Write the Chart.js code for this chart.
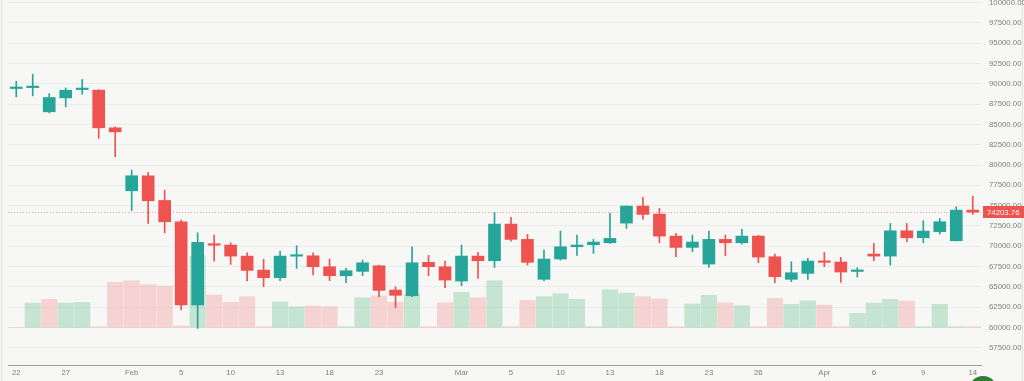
<!DOCTYPE html>
<html>
<head>
<meta charset="utf-8">
<title>Candles</title>
<script src="https://cdn.jsdelivr.net/npm/chart.js@4.4.1/dist/chart.umd.min.js"></script>
<style>
  html, body { margin: 0; padding: 0; background: #f7f8f6; overflow: hidden; }
  #wrap { position: relative; width: 1024px; height: 381px; }
  #badge { position: absolute; left: 969px; top: 376px; width: 28px; height: 28px; border-radius: 50%; background: #2e7d32; }
</style>
</head>
<body>
<div id="wrap">
  <canvas id="chart" width="1024" height="381"></canvas>
  <div id="badge"></div>
</div>
<script>
// daily candles, weekdays only
const dates = ['Jan 22','Jan 23','Jan 26','Jan 27','Jan 28','Jan 29','Jan 30',
  'Feb 2','Feb 3','Feb 4','Feb 5','Feb 6','Feb 9','Feb 10','Feb 11','Feb 12','Feb 13',
  'Feb 16','Feb 17','Feb 18','Feb 19','Feb 20','Feb 23','Feb 24','Feb 25','Feb 26','Feb 27',
  'Mar 2','Mar 3','Mar 4','Mar 5','Mar 6','Mar 9','Mar 10','Mar 11','Mar 12','Mar 13',
  'Mar 16','Mar 17','Mar 18','Mar 19','Mar 20','Mar 23','Mar 24','Mar 25','Mar 26','Mar 27',
  'Mar 30','Mar 31','Apr 1','Apr 2','Apr 3','Apr 6','Apr 7','Apr 8','Apr 9','Apr 10',
  'Apr 13','Apr 14'];

// which dates get a label on the time axis, and what it says
const shownTicks = {
  'Jan 22': '22', 'Jan 27': '27', 'Feb 2': 'Feb', 'Feb 5': '5', 'Feb 10': '10',
  'Feb 13': '13', 'Feb 18': '18', 'Feb 23': '23', 'Mar 2': 'Mar', 'Mar 5': '5',
  'Mar 10': '10', 'Mar 13': '13', 'Mar 18': '18', 'Mar 23': '23', 'Mar 26': '26',
  'Apr 1': 'Apr', 'Apr 6': '6', 'Apr 9': '9', 'Apr 14': '14'
};

// price axis ticks
const priceTicks = [57500, 60000, 62500, 65000, 67500, 70000, 72500, 75000, 77500,
  80000, 82500, 85000, 87500, 90000, 92500, 95000, 97500, 100000];

const opens = [89420, 89530, 86550, 88270, 89290, 89210, 84580, 76830, 78670, 75640,
  73020, 62770, 70250, 70150, 68790, 67070, 66130, 68780, 68830, 67480,
  66370, 66910, 67600, 64610, 63910, 68020, 67480, 65720, 68790, 68220,
  72730, 70850, 65930, 68430, 69940, 70190, 70430, 72850, 74950, 73960,
  71250, 69860, 67810, 70850, 70430, 71250, 68710, 65930, 66660, 68180,
  68060, 66900, 69040, 68790, 71910, 71050, 71790, 70680, 74450];

const highs = [90320, 91180, 88800, 89500, 90530, 89300, 84700, 79370, 79090, 76910,
  73220, 71660, 71380, 70430, 69200, 68390, 69410, 70070, 69200, 68430,
  67280, 68300, 67690, 65020, 69940, 68880, 68180, 70150, 69250, 74170,
  73550, 71460, 69530, 71870, 71380, 70850, 74040, 74990, 76010, 74660,
  71580, 71380, 71870, 71380, 72080, 71340, 69040, 68100, 68510, 69250,
  68630, 67360, 70350, 72810, 72810, 73140, 73430, 74860, 76170];

const lows = [88390, 88510, 86420, 87160, 88720, 83270, 81010, 74410, 72810, 71660,
  62150, 59900, 68180, 67770, 65720, 65020, 65760, 67280, 66460, 65760,
  65510, 66380, 63790, 62440, 63790, 66380, 64900, 65150, 66050, 67400,
  70640, 67690, 65720, 68300, 68880, 69120, 70350, 72200, 73310, 70430,
  68710, 69330, 67400, 68830, 70270, 67970, 65510, 65640, 65930, 67480,
  65560, 66210, 68220, 67690, 70560, 70430, 71500, 70650, 73920];

const closes = [89440, 89560, 88310, 89210, 89310, 84580, 84090, 78680, 75600, 73020,
  62770, 70480, 70130, 68790, 67030, 66130, 68790, 68820, 67480, 66380,
  66990, 67970, 64570, 63960, 67970, 67480, 65840, 68790, 68220, 72730,
  70850, 68020, 68430, 69940, 70150, 70520, 70970, 74950, 73920, 71250,
  69860, 70520, 70850, 70430, 71250, 68670, 66250, 66740, 68180, 68020,
  66830, 66990, 68790, 71910, 71050, 71870, 73020, 74450, 74203.76];

const volumes = [0, 2450, 2820, 2450, 2520, 80, 4520, 4680, 4280, 4150,
  150, 7180, 3250, 2520, 3080, 80, 2550, 2080, 2150, 2080,
  80, 2980, 3180, 2550, 3350, 80, 2480, 3520, 2980, 4680,
  80, 2720, 3080, 3380, 2820, 80, 3780, 3450, 3080, 2850,
  80, 2350, 3220, 2480, 2180, 80, 2920, 2320, 2680, 2250,
  80, 1420, 2450, 2820, 2650, 80, 2320, 80, 80];

// 1 = green volume bar, 0 = red
const volumeUp = [0,1,0,1,1,0,0,0,0,0, 0,1,0,0,0,0,1,1,0,0,
  1,1,0,0,1,0,0,1,0,1, 0,0,1,1,1,1,1,1,0,0,
  0,1,1,0,1,0,0,1,1,0, 0,1,1,1,0,1,1,1,0];

const PRICE_MIN = 55385;
const PRICE_MAX = 100315;
const VOL_BASE = 60000;      // volume bars stand on this price level
const VOL_SCALE = 0.8125;    // volume units per price unit

const UP = '#26a69a';
const DOWN = '#ef5350';
const lastPrice = closes[closes.length - 1];

const isUp = opens.map((o, i) => closes[i] >= o);
const candleColors = isUp.map(u => u ? UP : DOWN);

const fontFamily = "'Liberation Sans', Arial, sans-serif";

// background, frame, last-price line and label
const pricePlugin = {
  id: 'priceLine',
  beforeDraw(chart) {
    const ctx = chart.ctx;
    ctx.save();
    ctx.fillStyle = '#f7f8f6';
    ctx.fillRect(0, 0, chart.width, chart.height);
    ctx.strokeStyle = '#dfe2df';
    ctx.lineWidth = 1;
    ctx.beginPath();
    ctx.moveTo(1.5, 0); ctx.lineTo(1.5, chart.height);
    ctx.moveTo(1022.5, 0); ctx.lineTo(1022.5, chart.height);
    ctx.stroke();
    ctx.restore();
  },
  afterDraw(chart) {
    const ctx = chart.ctx;
    const area = chart.chartArea;
    const y = Math.round(chart.scales.y.getPixelForValue(lastPrice)) + 0.5;
    ctx.save();
    ctx.strokeStyle = 'rgba(239,83,80,0.55)';
    ctx.lineWidth = 1;
    ctx.setLineDash([1, 2]);
    ctx.beginPath();
    ctx.moveTo(area.left, y);
    ctx.lineTo(area.right, y);
    ctx.stroke();
    ctx.setLineDash([]);
    ctx.fillStyle = DOWN;
    ctx.fillRect(area.right + 2, y - 6.5, 41, 12);
    ctx.fillStyle = '#ffffff';
    ctx.font = '7.8px ' + fontFamily;
    ctx.textBaseline = 'middle';
    ctx.textAlign = 'left';
    ctx.fillText(lastPrice.toFixed(2), area.right + 6, y);
    ctx.restore();
  }
};

new Chart(document.getElementById('chart'), {
  type: 'bar',
  data: {
    labels: dates,
    datasets: [
      {
        label: 'Body',
        data: opens.map((o, i) => [o, closes[i]]),
        backgroundColor: candleColors,
        barThickness: 12,
        minBarLength: 1.5,
        grouped: false,
        order: 1
      },
      {
        label: 'Wick',
        data: lows.map((l, i) => [l, highs[i]]),
        backgroundColor: candleColors,
        barThickness: 1,
        grouped: false,
        order: 2
      },
      {
        label: 'Volume',
        data: volumes,
        yAxisID: 'yv',
        backgroundColor: volumeUp.map(u => u ? 'rgba(38,166,91,0.24)' : 'rgba(239,83,80,0.22)'),
        barThickness: 15.5,
        grouped: false,
        order: 3
      }
    ]
  },
  options: {
    responsive: false,
    animation: false,
    devicePixelRatio: 1,
    layout: { padding: { left: 8, right: 0, top: 0, bottom: 0 } },
    plugins: {
      legend: { display: false },
      tooltip: { enabled: false }
    },
    scales: {
      x: {
        type: 'category',
        offset: true,
        grid: { display: false, drawTicks: false },
        border: { display: true, color: '#9a9c9a', width: 1 },
        ticks: {
          autoSkip: false,
          maxRotation: 0,
          padding: 3,
          color: '#7d807d',
          font: { family: fontFamily, size: 7.8 },
          callback: function(value, index) { return shownTicks[dates[index]] || ''; }
        },
        afterFit: function(scale) { scale.height = 16; }
      },
      y: {
        position: 'right',
        min: PRICE_MIN,
        max: PRICE_MAX,
        grid: { color: 'rgba(0,0,0,0.045)', drawTicks: false },
        border: { display: false },
        ticks: {
          padding: 8,
          color: '#7d807d',
          font: { family: fontFamily, size: 7.8 },
          callback: function(value) { return value.toFixed(2); }
        },
        afterBuildTicks: function(scale) {
          scale.ticks = priceTicks.map(v => ({ value: v }));
        },
        afterFit: function(scale) {
          scale.width = 43;
          scale.paddingTop = 0;
          scale.paddingBottom = 0;
        }
      },
      yv: {
        display: false,
        min: (PRICE_MIN - VOL_BASE) * VOL_SCALE,
        max: (PRICE_MAX - VOL_BASE) * VOL_SCALE
      }
    }
  },
  plugins: [pricePlugin]
});
</script>
</body>
</html>
